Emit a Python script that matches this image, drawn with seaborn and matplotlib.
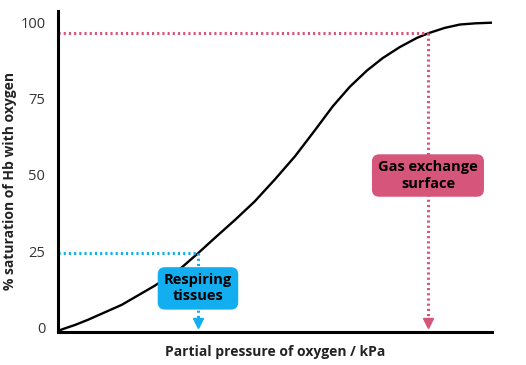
import matplotlib
matplotlib.use("Agg")
import matplotlib.pyplot as plt
import seaborn as sns
import pandas as pd

# Data (x in kPa-like units, y in % saturation)
pressure = [0.0, 0.23, 0.55, 0.97, 2.06, 3.13, 4.0, 4.52, 5.06, 5.71, 6.35, 7.0, 7.65,
            8.29, 8.87, 9.42, 9.97, 10.48, 11.03, 11.58, 11.94, 12.48, 12.97, 13.48, 14.0]
saturation = [-1.15, -0.3, 0.8, 2.5, 7.4, 13.7, 19.7, 24.3, 29.3, 35.2, 41.3, 48.5, 56.1,
              64.6, 72.5, 78.9, 84.2, 88.3, 91.9, 94.9, 96.4, 98.2, 99.3, 99.7, 99.9]
yticks = [0, 25, 50, 75, 100]
resp_x, resp_y = 4.52, 24.5
gas_x, gas_y = 11.94, 96.5
resp_label = "Respiring\ntissues"
gas_label = "Gas exchange\nsurface"
xlabel = "Partial pressure of oxygen / kPa"
ylabel = "% saturation of Hb with oxygen"

BLUE = "#12AEEF"
PINK = "#D6557B"

sns.set_theme(style="white")
plt.rcParams['font.family'] = ['Open Sans', 'DejaVu Sans']

fig = plt.figure(figsize=(5.26, 3.65), dpi=100)
ax = fig.add_axes([0.110, 0.0904, 0.825, 0.880])

df = pd.DataFrame({"p": pressure, "s": saturation})
sns.lineplot(data=df, x="p", y="s", ax=ax, color="black", linewidth=1.7)

ymin = -1.5
dots = (0, (0.7, 1.0))
ax.plot([0, resp_x], [resp_y, resp_y], color=BLUE, linestyle=dots, linewidth=2.2)
ax.plot([resp_x, resp_x], [resp_y, 1.5], color=BLUE, linestyle=dots, linewidth=2.2)
ax.plot([resp_x], [1.6], marker="v", color=BLUE, markersize=7, linestyle="none")
ax.plot([0, gas_x], [gas_y, gas_y], color=PINK, linestyle=dots, linewidth=2.2)
ax.plot([gas_x, gas_x], [gas_y, 1.5], color=PINK, linestyle=dots, linewidth=2.2)
ax.plot([gas_x], [1.6], marker="v", color=PINK, markersize=7, linestyle="none")

ax.text(resp_x, 12.8, resp_label, ha="center", va="center", fontsize=10.5, fontweight="bold",
        color="black", linespacing=1.2,
        bbox=dict(boxstyle="round,pad=0.42,rounding_size=0.5", fc=BLUE, ec="none"), zorder=5)
ax.text(gas_x, 49.8, gas_label, ha="center", va="center", fontsize=10.5, fontweight="bold",
        color="black", linespacing=1.2,
        bbox=dict(boxstyle="round,pad=0.42,rounding_size=0.5", fc=PINK, ec="none"), zorder=5)

ax.set_xlim(0, 14)
ax.set_ylim(ymin, 103.8)
ax.set_yticks(yticks)
ax.set_yticklabels([str(t) for t in yticks], fontsize=10.5, color="#333333")
ax.set_xticks([])
ax.tick_params(axis="y", length=0, pad=9)
ax.set_xlabel(xlabel, fontsize=10, fontweight="bold", color="#222222", labelpad=9)
ax.set_ylabel(ylabel, fontsize=10, fontweight="bold", color="#222222")
ax.yaxis.set_label_coords(-0.094, 0.47)
for s in ["top", "right"]:
    ax.spines[s].set_visible(False)
for s in ["left", "bottom"]:
    ax.spines[s].set_color("black")
    ax.spines[s].set_linewidth(2.2)

fig.savefig("out.png", dpi=100)
